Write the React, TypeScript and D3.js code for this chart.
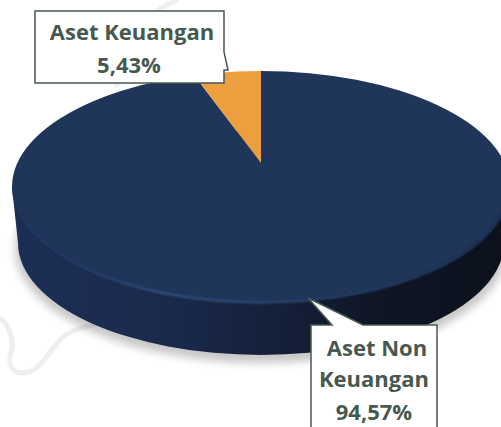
import React from "react";
import * as d3 from "d3";

const categories = ["Aset Non Keuangan", "Aset Keuangan"];
const shares = [94.57, 5.43];
const sliceColors = ["#20355a", "#eb9f3f"];
const labelLines = [["Aset Non", "Keuangan", "94,57%"], ["Aset Keuangan", "5,43%"]];

const W = 501, H = 427;
const topE = { cx: 261, cy: 187, rx: 249, ry: 116 };
const botE = { cx: 261, cy: 243, rx: 243, ry: 112 };
const apex = { x: 261, y: 163 };
const INK = "#47594f";
const FONT = "'Open Sans', sans-serif";

const pie = d3.pie<number>().sort(null).value((d) => d);
const arcs = pie(shares);
const wedge = d3.arc<any>().innerRadius(0).outerRadius(700);

export default function App() {
  return (
    <svg width={W} height={H} viewBox={`0 0 ${W} ${H}`} style={{ position: "absolute", left: 0, top: 0, background: "#fff" }}>
      <defs>
        <linearGradient id="side" x1="0" x2="1" y1="0" y2="0">
          <stop offset="0" stopColor="#1c2e54" />
          <stop offset="0.3" stopColor="#1a2a4c" />
          <stop offset="0.55" stopColor="#141f38" />
          <stop offset="0.75" stopColor="#0e1524" />
          <stop offset="1" stopColor="#0c111c" />
        </linearGradient>
        <linearGradient id="rim" x1="0" x2="1" y1="0" y2="0">
          <stop offset="0" stopColor="#20355a" stopOpacity="0.2" />
          <stop offset="0.3" stopColor="#34507f" />
          <stop offset="0.55" stopColor="#2b4169" />
          <stop offset="0.8" stopColor="#20355a" />
          <stop offset="1" stopColor="#182845" />
        </linearGradient>
        <linearGradient id="rimFade" x1="0" x2="0" y1="0" y2="1">
          <stop offset="0.5" stopColor="#fff" stopOpacity="0" />
          <stop offset="0.72" stopColor="#fff" stopOpacity="1" />
        </linearGradient>
        <mask id="rimMask" maskUnits="userSpaceOnUse" x="0" y="0" width={W} height={H}>
          <rect x={topE.cx - topE.rx - 4} y={topE.cy - topE.ry - 4} width={topE.rx * 2 + 8} height={topE.ry * 2 + 8} fill="url(#rimFade)" />
        </mask>
        <filter id="soft" x="-10%" y="-10%" width="120%" height="120%"><feGaussianBlur stdDeviation="4" /></filter>
        <filter id="soft1" x="-10%" y="-10%" width="120%" height="120%"><feGaussianBlur stdDeviation="1.3" /></filter>
        <clipPath id="topClip"><ellipse cx={topE.cx} cy={topE.cy} rx={topE.rx} ry={topE.ry} /></clipPath>
      </defs>

      {/* faint background watermark line */}
      <g fill="none" stroke="#efefef" strokeWidth={5} strokeLinecap="round">
        <path d="M100,323 C85,328 72,328 62,338 C50,350 40,372 24,373 C8,374 8,358 12,350 C14,335 6,322 0,318" />
        <path d="M176,1 C150,10 128,35 117,85" />
      </g>

      {/* drop shadow */}
      <ellipse cx={botE.cx} cy={botE.cy + 6} rx={botE.rx + 3} ry={botE.ry + 2} fill="#000" opacity={0.22} filter="url(#soft)" />

      {/* side wall */}
      <path d={`M${topE.cx - topE.rx},${topE.cy} L${botE.cx - botE.rx},${botE.cy} L${botE.cx + botE.rx},${botE.cy} L${topE.cx + topE.rx},${topE.cy} Z`} fill="url(#side)" />
      <ellipse cx={botE.cx} cy={botE.cy} rx={botE.rx} ry={botE.ry} fill="url(#side)" />

      {/* top face */}
      <g clipPath="url(#topClip)">
        <g transform={`translate(${apex.x},${apex.y}) scale(1,${topE.ry / topE.rx})`}>
          {arcs.map((a, i) => (
            <path key={categories[i]} d={wedge(a) as string} fill={sliceColors[i]} />
          ))}
        </g>
      </g>

      {/* bevel highlight */}
      <g mask="url(#rimMask)">
        <ellipse cx={topE.cx} cy={topE.cy} rx={topE.rx - 1} ry={topE.ry - 0.5} fill="none" stroke="url(#rim)" strokeWidth={2.5} filter="url(#soft1)" />
      </g>

      {/* callout: Aset Keuangan */}
      <path d="M35,11 H224 V52 L228,70 L224,70 V83 H35 Z" fill="#fff" stroke={INK} strokeWidth={1.5} />
      <g fill={INK} fontFamily={FONT} fontWeight={700} fontSize={22} textAnchor="middle">
        {labelLines[1].map((t, i) => (
          <text key={t} x={[132, 129][i]} y={40 + i * 33}>{t}</text>
        ))}
      </g>

      {/* callout: Aset Non Keuangan */}
      <path d="M311,325 H332 L308,298 L363,325 H437 V440 H311 Z" fill="#fff" stroke={INK} strokeWidth={1.5} />
      <g fill={INK} fontFamily={FONT} fontWeight={700} fontSize={22} textAnchor="middle">
        {labelLines[0].map((t, i) => (
          <text key={t} x={[377, 374, 374][i]} y={[356, 387, 420][i]}>{t}</text>
        ))}
      </g>
    </svg>
  );
}
